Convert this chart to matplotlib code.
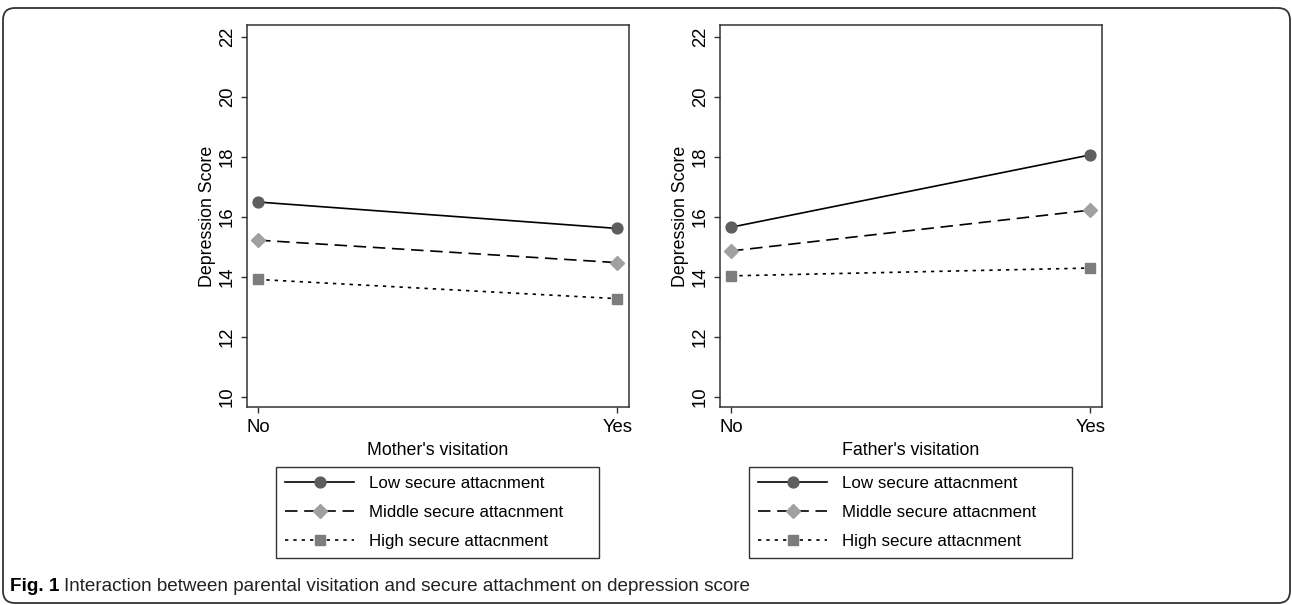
import numpy as np
import matplotlib.pyplot as plt
from matplotlib.patches import FancyBboxPatch

plt.rcParams['font.family'] = ['Liberation Sans', 'DejaVu Sans']

### DATA ###
visit_labels = ['No', 'Yes']
groups = ['Low secure attacnment', 'Middle secure attacnment', 'High secure attacnment']
mother_scores = [[16.50, 15.62],
                 [15.23, 14.48],
                 [13.92, 13.28]]
father_scores = [[15.66, 18.07],
                 [14.87, 16.23],
                 [14.04, 14.30]]
yticks = [10, 12, 14, 16, 18, 20, 22]

### STYLES ###
styles = [dict(color='black', linestyle='-', marker='o', mfc='#5e5e5e', mec='#5e5e5e', ms=7.8),
          dict(color='black', linestyle=(0, (7.5, 4)), marker='D', mfc='#a0a0a0', mec='#a0a0a0', ms=7.3),
          dict(color='black', linestyle=(0, (2, 3)), marker='s', mfc='#7d7d7d', mec='#7d7d7d', ms=7.3)]

fig = plt.figure(figsize=(12.92, 6.05), dpi=100)

def panel(rect, scores, xlabel, leg_box):
    ax = fig.add_axes(rect)
    x = np.arange(len(visit_labels))
    for vals, lab, st in zip(scores, groups, styles):
        ax.plot(x, vals, label=lab, linewidth=1.2, **st)
    ax.set_xlim(-0.0306, 1.033)
    ax.set_ylim(9.67, 22.4)
    ax.set_xticks(x)
    ax.set_xticklabels(visit_labels)
    ax.set_yticks(yticks)
    ax.set_yticklabels([str(t) for t in yticks], rotation=90, va='center')
    ax.tick_params(direction='out', length=4, width=1, labelsize=13.3, color='#333333')
    ax.tick_params(axis='x', pad=5)
    ax.tick_params(axis='y', pad=4)
    for sp in ax.spines.values():
        sp.set_color('#333333')
        sp.set_linewidth(1.1)
    ax.set_xlabel(xlabel, fontsize=12.8, labelpad=4)
    ax.set_ylabel('Depression Score', fontsize=12.8, labelpad=2)
    leg = ax.legend(loc='upper left', bbox_to_anchor=leg_box, mode='expand',
                    bbox_transform=fig.transFigure,
                    fontsize=12.2, numpoints=1, handlelength=4.05,
                    fancybox=False, framealpha=1, edgecolor='#333333',
                    borderpad=0.55, labelspacing=0.82, handletextpad=0.88,
                    borderaxespad=0)
    leg.get_frame().set_linewidth(1.0)
    return ax

panel([0.1912, 0.3273, 0.2957, 0.6314], mother_scores, "Mother's visitation",
      (0.2136, 0.078, 0.250, 0.150))
panel([0.5573, 0.3273, 0.2957, 0.6314], father_scores, "Father's visitation",
      (0.5797, 0.078, 0.250, 0.150))

### caption and outer frame ###
fig.text(0.008, 0.031, 'Fig. 1', fontsize=13.6, fontweight='bold', va='center')
fig.text(0.0495, 0.031, 'Interaction between parental visitation and secure attachment on depression score',
         fontsize=13.6, va='center', color='#222222')

frame = FancyBboxPatch((3, 2), 1287, 595, boxstyle='round,pad=0,rounding_size=12',
                       transform=None, fill=False, edgecolor='#333333', linewidth=1.3)
fig.add_artist(frame)

fig.savefig('out.png', dpi=100)
